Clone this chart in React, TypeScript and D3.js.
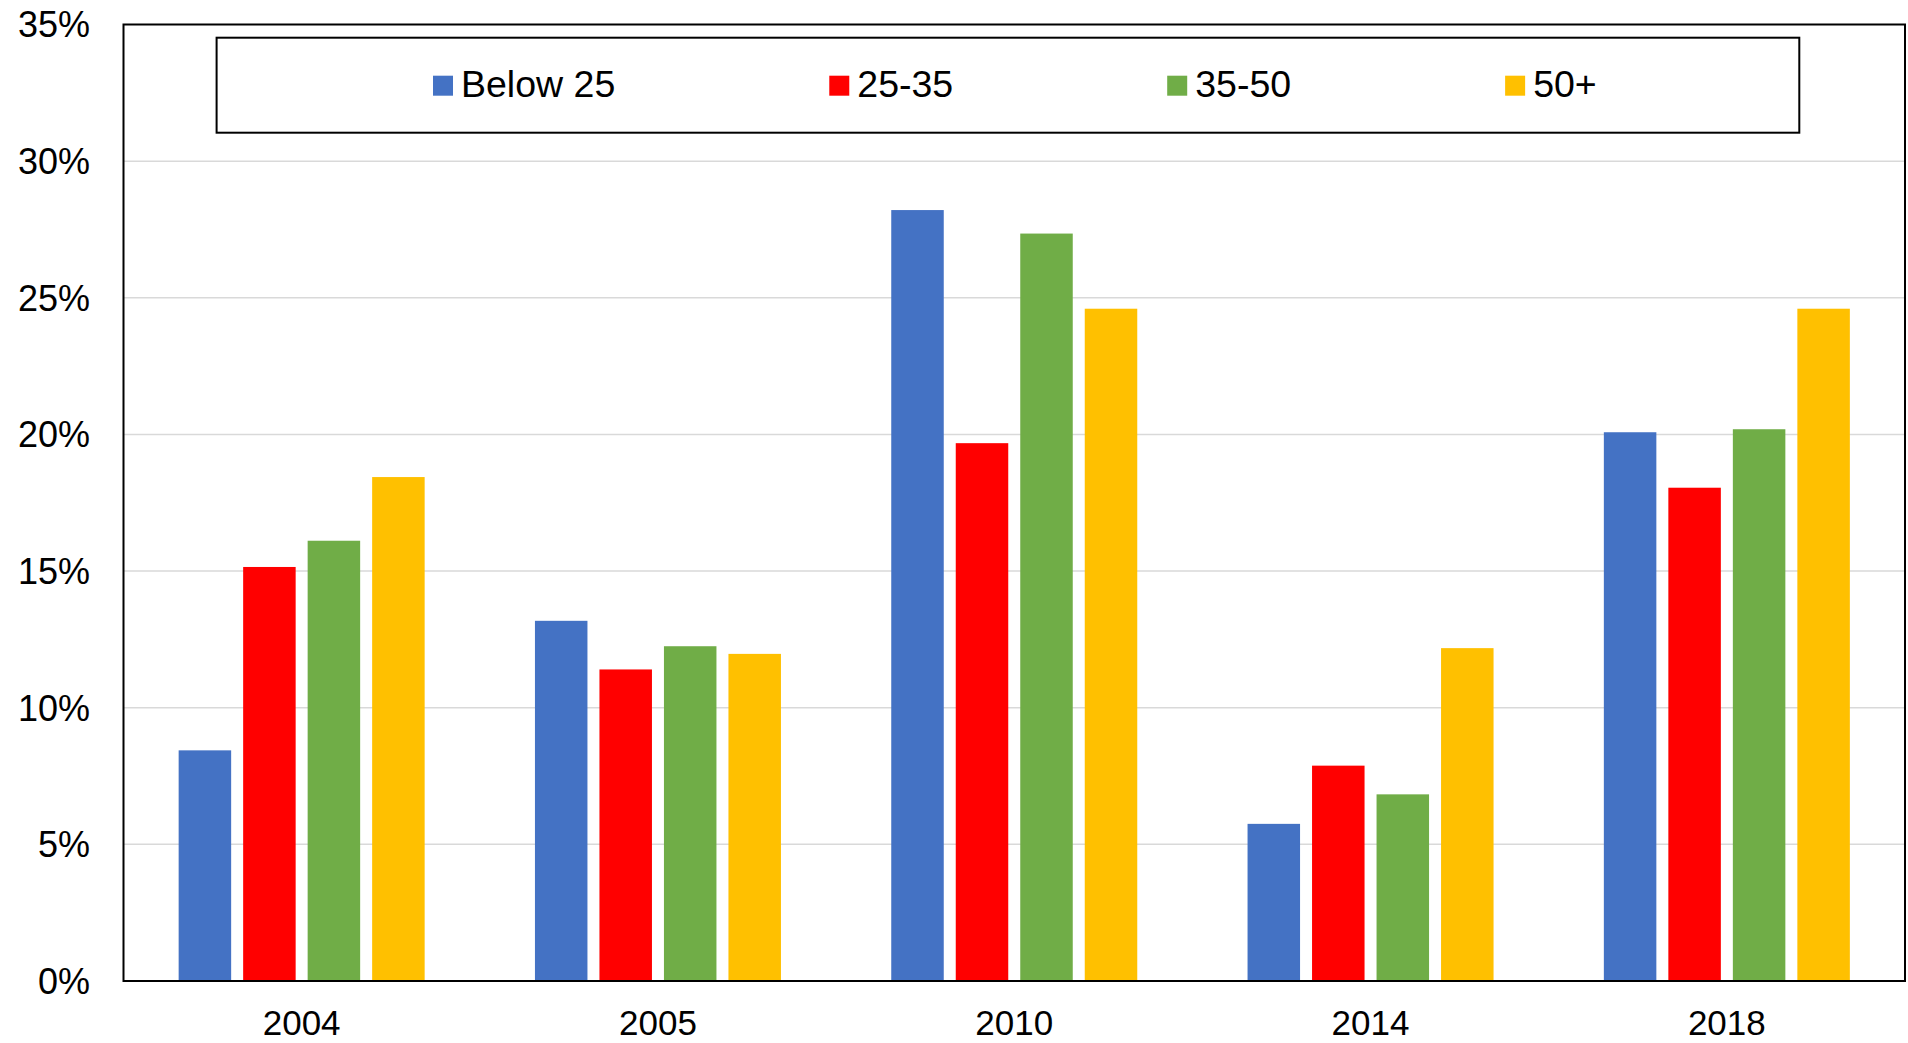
import React, { useEffect, useRef } from 'react';
import * as d3 from 'd3';

const years = ['2004', '2005', '2010', '2014', '2018'];
const seriesNames = ['Below 25', '25-35', '35-50', '50+'];
const seriesColors = ['#4472C4', '#FF0000', '#70AD47', '#FFC000'];

// share of each age group per year
const below25 = [0.0844, 0.1318, 0.2821, 0.0575, 0.2008];
const age25to35 = [0.1515, 0.1140, 0.1968, 0.0788, 0.1805];
const age35to50 = [0.1611, 0.1225, 0.2735, 0.0683, 0.2019];
const age50plus = [0.1844, 0.1197, 0.2460, 0.1218, 0.2460];

const yTicks = [0, 0.05, 0.1, 0.15, 0.2, 0.25, 0.3, 0.35];

const W = 1908;
const H = 1043;
const FONT = '"Liberation Sans", Arial, sans-serif';

export default function App() {
  const svgRef = useRef<SVGSVGElement>(null);

  useEffect(() => {
    if (!svgRef.current) return;
    const svg = d3.select(svgRef.current);
    svg.selectAll('*').remove();

    const plot = { left: 123.5, top: 24.5, right: 1905, bottom: 981 };
    const values = [below25, age25to35, age35to50, age50plus];

    const x = d3.scaleBand<string>().domain(years).range([plot.left, plot.right]).padding(0);
    const xi = d3.scaleBand<string>()
      .domain(seriesNames)
      .range([0, x.bandwidth()])
      .paddingInner(0.186)
      .paddingOuter(0.855);
    const y = d3.scaleLinear().domain([0, 0.35]).range([plot.bottom, plot.top]);

    // Gridlines
    svg.append('g')
      .selectAll('line')
      .data(yTicks.filter(t => t > 0 && t < 0.35))
      .join('line')
      .attr('x1', plot.left)
      .attr('x2', plot.right)
      .attr('y1', d => y(d))
      .attr('y2', d => y(d))
      .attr('stroke', '#d9d9d9')
      .attr('stroke-width', 1.5);

    // Bars
    seriesNames.forEach((name, si) => {
      svg.append('g')
        .attr('fill', seriesColors[si])
        .selectAll('rect')
        .data(years)
        .join('rect')
        .attr('x', (yr) => (x(yr) as number) + (xi(name) as number))
        .attr('y', (_, i) => y(values[si][i]))
        .attr('width', xi.bandwidth())
        .attr('height', (_, i) => y(0) - y(values[si][i]));
    });

    // Plot border
    svg.append('rect')
      .attr('x', plot.left)
      .attr('y', plot.top)
      .attr('width', plot.right - plot.left)
      .attr('height', plot.bottom - plot.top)
      .attr('fill', 'none')
      .attr('stroke', '#000')
      .attr('stroke-width', 2);

    // Y axis labels
    svg.append('g')
      .selectAll('text')
      .data(yTicks)
      .join('text')
      .attr('x', 90)
      .attr('y', d => y(d))
      .attr('dy', '0.36em')
      .attr('text-anchor', 'end')
      .attr('font-family', FONT)
      .attr('font-size', 36)
      .attr('fill', '#000')
      .text(d => d3.format('.0%')(d));

    // X axis labels
    svg.append('g')
      .selectAll('text')
      .data(years)
      .join('text')
      .attr('x', d => (x(d) as number) + x.bandwidth() / 2)
      .attr('y', 1035)
      .attr('text-anchor', 'middle')
      .attr('font-family', FONT)
      .attr('font-size', 35)
      .attr('fill', '#000')
      .text(d => d);

    // Legend
    const lg = { left: 216.6, top: 37.7, right: 1799.3, bottom: 132.7 };
    svg.append('rect')
      .attr('x', lg.left)
      .attr('y', lg.top)
      .attr('width', lg.right - lg.left)
      .attr('height', lg.bottom - lg.top)
      .attr('fill', '#fff')
      .attr('stroke', '#000')
      .attr('stroke-width', 2);

    const items = svg.append('g');
    const widths: number[] = [];
    const texts = seriesNames.map((name) => {
      const t = items.append('text')
        .attr('y', 97.3)
        .attr('font-family', FONT)
        .attr('font-size', 37.5)
        .attr('fill', '#000')
        .text(name);
      widths.push((t.node() as SVGTextElement).getComputedTextLength());
      return t;
    });
    const sq = 20, gapSq = 8, gapItem = 214;
    let cx = 433;
    seriesNames.forEach((name, i) => {
      items.append('rect')
        .attr('x', cx)
        .attr('y', 75.7)
        .attr('width', sq)
        .attr('height', sq)
        .attr('fill', seriesColors[i]);
      texts[i].attr('x', cx + sq + gapSq);
      cx += sq + gapSq + widths[i] + gapItem;
    });
  }, []);

  return (
    <div style={{ position: 'absolute', left: 0, top: 0, width: W, height: H, background: '#fff' }}>
      <svg ref={svgRef} width={W} height={H} style={{ display: 'block' }} />
    </div>
  );
}
